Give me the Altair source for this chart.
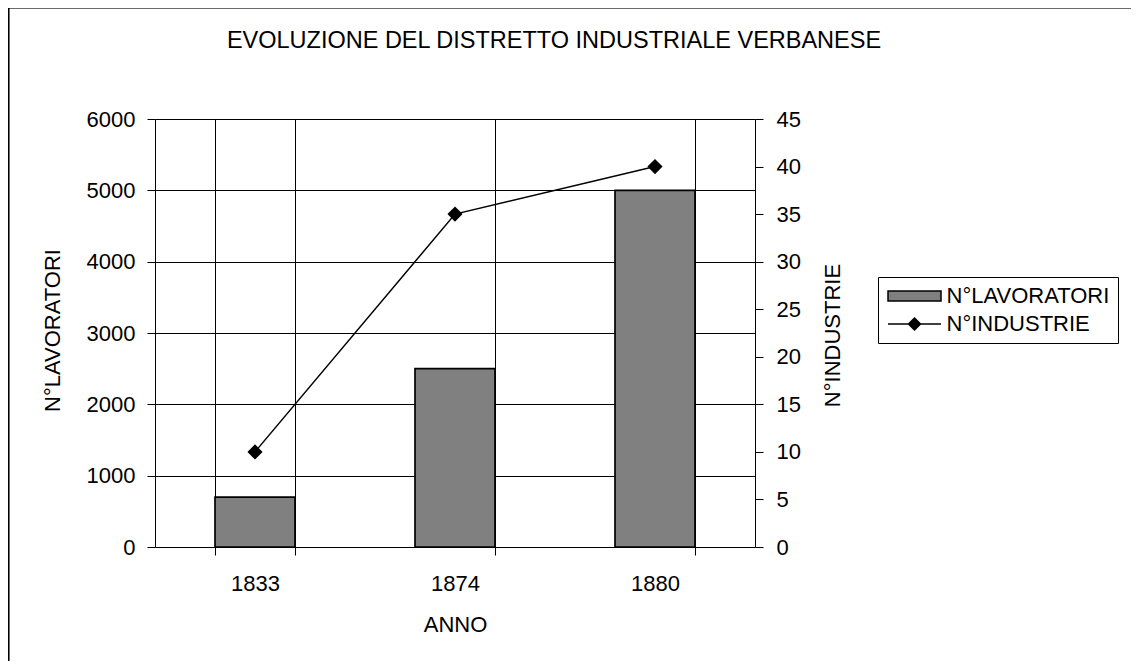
import altair as alt
import pandas as pd

anni = ["1833", "1874", "1880"]
lavoratori = [700, 2500, 5000]
industrie = [10, 35, 40]
serie = ["N°LAVORATORI", "N°INDUSTRIE"]
titolo = "EVOLUZIONE DEL DISTRETTO INDUSTRIALE VERBANESE"

df = pd.DataFrame({"ANNO": anni, "LAV": lavoratori, "IND": industrie})
df_leg = pd.DataFrame({"serie": serie})
df_tit = pd.DataFrame({"t": [titolo]})

FONT = "Liberation Sans"
FS = 22

x_enc = alt.X(
    "ANNO:N",
    title="ANNO",
    scale=alt.Scale(paddingInner=0.6, paddingOuter=0.3),
    axis=alt.Axis(
        labelAngle=0, tickBand="extent", grid=True, gridColor="black",
        gridOpacity=1, domainColor="black", tickColor="black", tickSize=8,
        labelPadding=18, titlePadding=20, labelColor="black", titleColor="black",
    ),
)

bars = alt.Chart(df).mark_bar(
    fill="#808080", stroke="black", strokeWidth=1.7
).encode(
    x=x_enc,
    y=alt.Y(
        "LAV:Q", title="N°LAVORATORI",
        scale=alt.Scale(domain=[0, 6000], nice=False),
        axis=alt.Axis(
            values=[0, 1000, 2000, 3000, 4000, 5000, 6000], format="d",
            grid=True, gridColor="black", gridOpacity=1, domainColor="black",
            tickColor="black", tickSize=8, labelPadding=12,
            titleX=-103, titleY=211, titleBaseline="middle", titleAngle=270,
            labelColor="black", titleColor="black",
        ),
    ),
)

y_right = alt.Y(
    "IND:Q", title="N°INDUSTRIE",
    scale=alt.Scale(domain=[0, 45], nice=False),
    axis=alt.Axis(
        orient="right", values=list(range(0, 50, 5)), format="d", grid=False,
        domainColor="black", tickColor="black", tickSize=8, labelPadding=13,
        titleX=77, titleY=216, titleBaseline="middle", titleAngle=270,
        labelColor="black", titleColor="black",
    ),
)

line = alt.Chart(df).mark_line(color="black", strokeWidth=1.5).encode(
    x=alt.X("ANNO:N"), y=y_right
)
pts = alt.Chart(df).mark_point(
    shape="diamond", filled=True, color="black", size=230, opacity=1
).encode(x=alt.X("ANNO:N"), y=alt.Y("IND:Q"))

rect_path = "M-2.65,-0.5H2.65V0.5H-2.65Z"
line_path = "M-2.65,0H2.65M0,-0.6L0.6,0L0,0.6L-0.6,0Z"

leg_common = dict(
    title=None, orient="none", legendX=723, legendY=158,
    strokeColor="black", padding=8, symbolSize=400, symbolOffset=17.5,
    labelOffset=21, labelFontSize=FS, labelFont=FONT, labelColor="black",
    labelLimit=0, rowPadding=6, fillColor="white", symbolOpacity=1,
    symbolStrokeWidth=1.5,
)

legend_layer = alt.Chart(df_leg).mark_point(
    filled=True, opacity=1, strokeWidth=1.5
).encode(
    x=alt.value(0),
    y=alt.value(0),
    fill=alt.Fill(
        "serie:N",
        scale=alt.Scale(domain=serie, range=["#808080", "black"]),
        legend=alt.Legend(**leg_common),
    ),
    stroke=alt.Stroke(
        "serie:N",
        scale=alt.Scale(domain=serie, range=["black", "black"]),
        legend=alt.Legend(**leg_common),
    ),
    shape=alt.Shape(
        "serie:N",
        scale=alt.Scale(domain=serie, range=[rect_path, line_path]),
        legend=alt.Legend(**leg_common),
    ),
).transform_filter("false")

border = alt.Chart(df).mark_rect(
    fill=None, stroke="black", strokeWidth=1.5
).encode(
    x=alt.value(-146.5), x2=alt.value(1100),
    y=alt.value(-111.5), y2=alt.value(700),
)

title_mark = alt.Chart(df_tit).mark_text(
    font=FONT, fontSize=23.5, color="black", align="center",
    baseline="alphabetic",
).encode(x=alt.value(399), y=alt.value(-71), text="t:N")

right_layer = alt.layer(line, pts)

chart = alt.layer(
    border, title_mark, bars, right_layer, legend_layer
).resolve_scale(y="independent").properties(
    width=600, height=428,
    autosize=alt.AutoSizeParams(type="none"),
    padding={"left": 147, "top": 111, "right": 376, "bottom": 114},
).configure_axis(
    labelFont=FONT, titleFont=FONT, labelFontSize=FS, titleFontSize=FS,
    titleFontWeight="normal",
).configure_view(stroke=None)

chart.save("out.html", embed_options={"renderer": "svg", "actions": False})
